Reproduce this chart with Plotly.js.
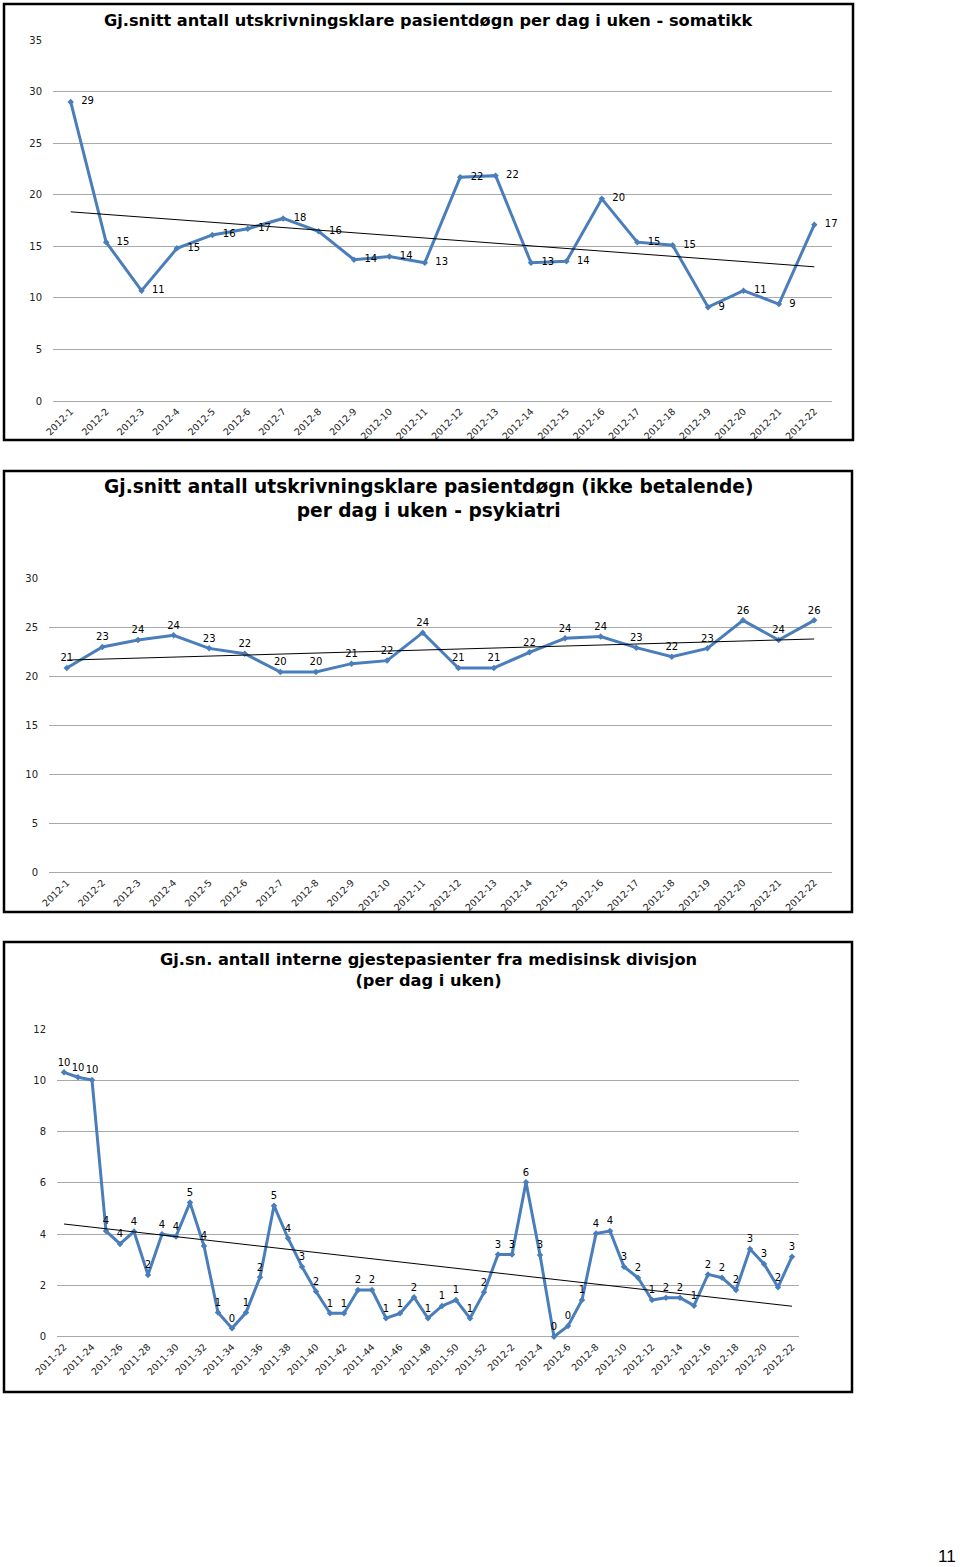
<!DOCTYPE html>
<html>
<head>
<meta charset="utf-8">
<script src="https://cdn.plot.ly/plotly-3.0.1.min.js"></script>
<style>
html,body{margin:0;padding:0;background:#ffffff;}
#chart{width:960px;height:1567px;}
</style>
</head>
<body>
<div id="chart"></div>
<script>
// ---------- DATA ----------
const weeksSomatikk = ['2012-1','2012-2','2012-3','2012-4','2012-5','2012-6','2012-7','2012-8','2012-9','2012-10','2012-11',
  '2012-12','2012-13','2012-14','2012-15','2012-16','2012-17','2012-18','2012-19','2012-20','2012-21','2012-22'];
const somatikk = [29.0,15.4,10.7,14.8,16.1,16.7,17.7,16.45,13.7,14.0,13.4,
  21.7,21.85,13.4,13.55,19.6,15.4,15.1,9.1,10.7,9.4,17.1];

const weeksPsykiatri = ['2012-1','2012-2','2012-3','2012-4','2012-5','2012-6','2012-7','2012-8','2012-9','2012-10','2012-11',
  '2012-12','2012-13','2012-14','2012-15','2012-16','2012-17','2012-18','2012-19','2012-20','2012-21','2012-22'];
const psykiatri = [20.85,22.99,23.7,24.18,22.85,22.3,20.44,20.44,21.29,21.6,24.45,
  20.85,20.85,22.45,23.88,24.05,22.92,22.0,22.85,25.71,23.7,25.71];

const weeksGjeste = ['2011-22','2011-23','2011-24','2011-25','2011-26','2011-27','2011-28','2011-29','2011-30','2011-31',
  '2011-32','2011-33','2011-34','2011-35','2011-36','2011-37','2011-38','2011-39','2011-40','2011-41','2011-42',
  '2011-43','2011-44','2011-45','2011-46','2011-47','2011-48','2011-49','2011-50','2011-51','2011-52',
  '2012-1','2012-2','2012-3','2012-4','2012-5','2012-6','2012-7','2012-8','2012-9','2012-10','2012-11',
  '2012-12','2012-13','2012-14','2012-15','2012-16','2012-17','2012-18','2012-19','2012-20','2012-21','2012-22'];
const gjeste = [10.31,10.12,10.01,4.12,3.62,4.10,2.41,4.0,3.91,5.23,
  3.54,0.94,0.33,0.94,2.32,5.11,3.84,2.73,1.76,0.91,0.91,
  1.82,1.82,0.72,0.91,1.54,0.72,1.20,1.43,0.72,1.73,
  3.21,3.21,6.02,3.19,0.0,0.42,1.43,4.02,4.12,2.73,2.30,
  1.43,1.52,1.52,1.21,2.43,2.30,1.82,3.42,2.84,1.93,3.12];
const gjesteTickLabels = ['2011-22','2011-24','2011-26','2011-28','2011-30','2011-32','2011-34','2011-36','2011-38','2011-40',
  '2011-42','2011-44','2011-46','2011-48','2011-50','2011-52','2012-2','2012-4','2012-6','2012-8','2012-10',
  '2012-12','2012-14','2012-16','2012-18','2012-20','2012-22'];

const title1 = 'Gj.snitt antall utskrivningsklare pasientdøgn per dag i uken - somatikk';
const title2 = 'Gj.snitt antall utskrivningsklare pasientdøgn (ikke betalende)<br>per dag i uken - psykiatri';
const title3 = 'Gj.sn. antall interne gjestepasienter fra medisinsk divisjon<br>(per dag i uken)';

// ---------- HELPERS ----------
const W = 960, H = 1567;
const PX = x => x / W;
const PY = y => 1 - y / H;
const FONT = 'DejaVu Sans, Verdana, sans-serif';
const BLUE = '#4a7ebb';
const GRID = '#a9a9a9';

function trend(vals) {
  const n = vals.length;
  let sx = 0, sy = 0, sxy = 0, sxx = 0;
  for (let i = 0; i < n; i++) { sx += i; sy += vals[i]; sxy += i * vals[i]; sxx += i * i; }
  const b = (n * sxy - sx * sy) / (n * sxx - sx * sx);
  const a = (sy - b * sx) / n;
  return [a, a + b * (n - 1)];
}

function seriesTraces(cats, vals, xa, ya, textpos, tmpl) {
  return [
    {
      x: cats, y: vals, xaxis: xa, yaxis: ya, type: 'scatter', mode: 'lines+markers+text',
      line: {color: BLUE, width: 3},
      marker: {color: BLUE, size: 5, symbol: 'diamond'},
      text: vals.map(v => String(Math.round(v))),
      texttemplate: tmpl,
      textposition: textpos,
      textfont: {family: FONT, size: 10, color: '#000'},
      cliponaxis: false, hoverinfo: 'x+y', showlegend: false
    },
    {
      x: [cats[0], cats[cats.length - 1]], y: trend(vals), xaxis: xa, yaxis: ya,
      type: 'scatter', mode: 'lines', line: {color: '#000', width: 1},
      hoverinfo: 'skip', showlegend: false
    }
  ];
}

const data = [].concat(
  seriesTraces(weeksSomatikk, somatikk, 'x', 'y', 'middle right', '\u00a0\u00a0%{text}'),
  seriesTraces(weeksPsykiatri, psykiatri, 'x2', 'y2', 'top center', '%{text}'),
  seriesTraces(weeksGjeste, gjeste, 'x3', 'y3', 'top center', '%{text}')
);

const tickFont = {family: FONT, size: 9.5, color: '#222'};
const yTickFont = {family: FONT, size: 10, color: '#222'};

function xAxis(dom, anchor, n, extra) {
  return Object.assign({
    domain: [PX(dom[0]), PX(dom[1])], anchor: anchor, type: 'category',
    range: [-0.5, n - 0.5], tickangle: -45, showgrid: false, showline: false,
    zeroline: false, ticks: '', tickfont: tickFont, fixedrange: true, automargin: false,
    ticklabelstandoff: 2
  }, extra || {});
}
function yAxis(top, bottom, anchor, max, dtick) {
  return {
    domain: [PY(bottom), PY(top)], anchor: anchor, range: [0, max], dtick: dtick,
    showgrid: true, gridcolor: GRID, gridwidth: 1, zeroline: true, zerolinecolor: GRID,
    zerolinewidth: 1, showline: false, ticks: '', tickfont: yTickFont, fixedrange: true,
    automargin: false, ticklabelstandoff: 10
  };
}

const layout = {
  width: W, height: H,
  margin: {l: 0, r: 0, t: 0, b: 0},
  paper_bgcolor: '#fff', plot_bgcolor: 'rgba(0,0,0,0)',
  showlegend: false,
  font: {family: FONT},
  xaxis: xAxis([53, 832], 'y', weeksSomatikk.length),
  yaxis: yAxis(40, 401, 'x', 35, 5),
  xaxis2: xAxis([49, 832], 'y2', weeksPsykiatri.length),
  yaxis2: yAxis(578.3, 872.3, 'x2', 30, 5),
  xaxis3: xAxis([57, 799], 'y3', weeksGjeste.length, {tickmode: 'array', tickvals: gjesteTickLabels, ticktext: gjesteTickLabels}),
  yaxis3: yAxis(1029, 1336.7, 'x3', 12, 2),
  shapes: [
    {type: 'rect', xref: 'paper', yref: 'paper', x0: PX(4), x1: PX(853), y0: PY(440), y1: PY(4), line: {color: '#000', width: 2.5}},
    {type: 'rect', xref: 'paper', yref: 'paper', x0: PX(4), x1: PX(852), y0: PY(912), y1: PY(471), line: {color: '#000', width: 2.5}},
    {type: 'rect', xref: 'paper', yref: 'paper', x0: PX(4), x1: PX(852), y0: PY(1392), y1: PY(942), line: {color: '#000', width: 2.5}}
  ],
  annotations: [
    {text: '<b>' + title1 + '</b>', xref: 'paper', yref: 'paper', x: PX(428.5), y: PY(20), xanchor: 'center', yanchor: 'middle',
      showarrow: false, font: {family: FONT, size: 16.2, color: '#000'}},
    {text: '<b>' + title2.replace('<br>', '</b><br><b>') + '</b>', xref: 'paper', yref: 'paper', x: PX(428), y: PY(499), xanchor: 'center', yanchor: 'middle',
      showarrow: false, font: {family: FONT, size: 18.6, color: '#000'}},
    {text: '<b>' + title3.replace('<br>', '</b><br><b>') + '</b>', xref: 'paper', yref: 'paper', x: PX(428), y: PY(970), xanchor: 'center', yanchor: 'middle',
      showarrow: false, font: {family: FONT, size: 16.2, color: '#000'}},
    {text: '11', xref: 'paper', yref: 'paper', x: PX(958), y: PY(1556), xanchor: 'right', yanchor: 'middle',
      showarrow: false, font: {family: 'Liberation Sans, Arial, sans-serif', size: 17, color: '#000'}}
  ]
};

Plotly.newPlot('chart', data, layout, {staticPlot: true, displayModeBar: false});
</script>
</body>
</html>
